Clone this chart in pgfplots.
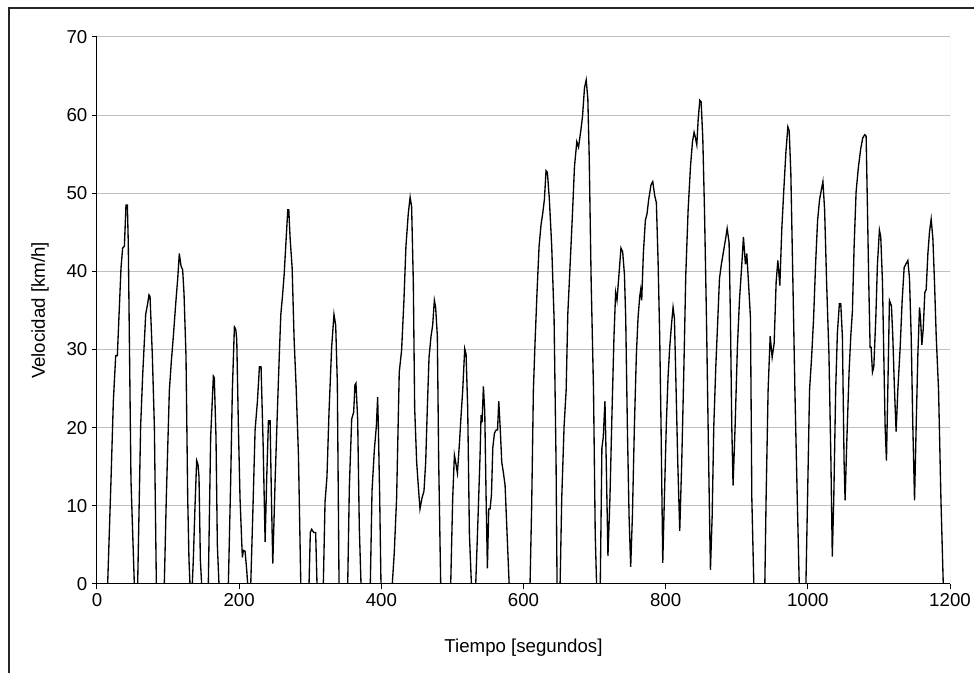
\documentclass[border=0pt]{standalone}
\usepackage{fontspec}
\setmainfont{Liberation Sans}
\usepackage{pgfplots}
\pgfplotsset{compat=1.18}
\newcommand{\fs}{\fontsize{14}{16}\selectfont}
\begin{document}
\begin{tikzpicture}
\useasboundingbox (0,0) rectangle (730.5pt,504.75pt);
\draw[line width=0.9pt, black!85] (6.75pt,-2pt) -- (6.75pt,498.75pt) -- (732pt,498.75pt);
\begin{axis}[
  at={(72.75pt,66.75pt)}, anchor=south west,
  scale only axis, width=639.75pt, height=410.25pt,
  xmin=0, xmax=1200, ymin=0, ymax=70,
  xtick={0,200,...,1200}, ytick={0,10,...,70},
  axis x line*=bottom, axis y line*=left,
  tick align=outside, major tick length=3.75pt,
  ymajorgrids, grid style={gray!50, line width=0.75pt},
  tick style={black, line width=0.75pt},
  axis line style={black, line width=0.75pt},
  tick label style={font=\fs},
  label style={font=\fs},
  /pgf/number format/assume math mode=true,
  /pgf/number format/1000 sep={},
  xlabel={Tiempo [segundos]}, ylabel={Velocidad [km/h]},
  xlabel style={at={(axis description cs:0.5,-0.117)}, anchor=center},
  ylabel style={at={(axis description cs:-0.0668,0.5)}, anchor=center},
]
\draw[gray!50, line width=0.75pt] (rel axis cs:1,0) -- (rel axis cs:1,1);
\addplot[black, line width=1pt, mark=none] coordinates {
(0,0) (15,0) (19.7,13.3) (23,23.4) (26.3,29.2) (28.6,29.2) (33.8,40.5) (36.1,43) (38.5,43.2) (40.8,48.5) (42.7,48.5) (44,43.7) (47.8,13.3) (52.5,0)
(57.2,0) (61.4,20.2) (64.2,26.6) (68.5,34.5) (71.3,35.9) (73.1,37) (74.6,36.8) (77.8,29.4) (80.7,20.2) (83.5,0)
(94.7,0) (97.5,11) (101.8,24.8) (104.6,28.5) (107.4,31.7) (111.1,36.3) (113.5,39) (115.8,42.3) (118.2,40.7) (120.5,40.2) (122.4,37.2) (125.2,29.2) (127.6,11) (129.4,3.1) (130.8,0)
(134.1,0) (135.5,3.1) (137.9,10) (140.2,15.8) (142.1,15.3) (143.5,13.7) (145.4,3.1) (147.2,0)
(156.6,0) (159.9,18.8) (163.7,26.6) (165,26.4) (167.4,18.8) (169.3,5) (171.6,0)
(184.8,0) (188.1,13.3) (190.4,24.8) (193.3,32.9) (195.2,32.6) (196.6,31.3) (198.9,20.2) (201.2,11) (203.6,5.4) (204.5,3.4) (205.9,4.3) (208.3,4.2) (210.6,1.8) (212,0)
(216.3,0) (219.1,8.7) (222.4,19.7) (225.7,23.4) (228.5,27.8) (230.8,27.8) (233.7,17.9) (236.5,5.4) (238.8,13.7) (241.2,20.9) (243.5,20.9) (245.4,11) (247.3,2.6) (250.6,13.3) (253.9,22.5) (256.7,29.9) (258.6,34.5) (260.9,36.8) (263.3,39.6) (266.1,44.2) (268.4,47.9) (269.8,47.9) (271.7,44.2) (274.5,40.5) (277.3,31.3) (280.1,25.3) (283.4,16.5) (286.7,0)
(298.3,0) (300.1,6.6) (302,7) (304.8,6.6) (307.6,6.6) (309.5,0)
(318.4,0) (320.8,10.5) (323.5,13.7) (326.4,22) (330.1,30.3) (333.4,34.5) (335.8,33.1) (338.1,25.7) (340.5,0)
(352.7,0) (355,12.4) (358.3,21.1) (361.1,22) (362.9,25.5) (364.3,25.7) (366.7,21.1) (369,7.3) (371.4,0)
(384.5,0) (386.9,11.9) (390.2,17.2) (393,20.2) (394.8,23.9) (395.8,20.2) (397.7,11) (399.5,0)
(415.4,0) (418.2,4) (421.5,11) (425.2,27.1) (428.5,29.9) (431.8,36.3) (434.6,43.2) (437.9,47.4) (440.5,49.5) (442.6,48.3) (445,38.6) (446.9,22.5) (449.7,15.6) (452.1,12.4) (454.4,9.6) (457.2,11) (460,11.9) (462.4,15.6) (464.7,22.5) (467.1,29) (469.9,31.7) (472.2,33.1) (474.6,36.3) (476.4,35.4) (478.8,31.7) (480.7,15.6) (483.5,0)
(497.6,0) (500.4,11) (502.8,16.5) (504.2,15.8) (507,14.2) (509.8,17.9) (512.2,21.6) (514.5,24.8) (517.3,30.1) (519.2,29.4) (521.5,22.5) (523.9,6.4) (526.7,0)
(532.8,0) (536.1,8.7) (538.9,16.5) (540.3,21.6) (541.7,20.7) (543.6,25.3) (545.5,22) (547.4,11) (549.2,2) (551.1,9.6) (553,9.6) (554.9,11.4) (556.8,17.4) (559.1,19.3) (561.5,19.7) (563.5,19.7) (565.2,23.4) (567.1,20.2) (569.4,15.6) (571.8,14.2) (574.1,12.6) (576.5,7.3) (579.8,0)
(609.2,0) (611.5,10) (613.9,24.8) (616.2,30.8) (619,37.3) (621.9,43.2) (624.7,46) (627,47.4) (629.4,49.2) (631.7,52.9) (633.6,52.7) (636.4,49.2) (639.7,43.2) (643,34) (645.8,15.6) (647.2,0)
(651.5,0) (653.8,11) (657.1,20.2) (660,24.8) (662.3,34.5) (665.6,40.9) (668.9,47.4) (671.7,53.4) (675,56.6) (677.4,55.9) (680.6,58) (683,59.8) (685.8,63.5) (688.2,64.5) (690.5,62.1) (692.4,54.8) (695.2,38.6) (698.5,24.8) (700.9,6.4) (702.8,0)
(708,0) (710.3,17.4) (712.2,18.8) (714.6,23.4) (716.4,15.6) (718.8,3.6) (721.6,11) (724.4,21.6) (727.3,31.7) (729.6,37.3) (731.5,36.3) (734.3,39.6) (737.1,43) (739.5,42.5) (742,39.6) (743.8,34) (746.1,20.2) (748.5,8.7) (750.8,2.2) (753.2,8.7) (756,20.2) (758.8,29.4) (761.1,34) (763.5,36.8) (764.9,37.7) (766.3,36.3) (768.6,42.3) (771.4,46.5) (773.8,47.4) (776.1,49.2) (779.4,51.1) (781.8,51.5) (784.6,49.7) (786.9,48.8) (789.3,41.4) (791.6,31.7) (793.5,20.2) (795.9,2.7) (798.2,11) (801,20.7) (803.4,26.6) (805.7,30.3) (808.1,33.1) (810.4,35.4) (812.3,34) (814.7,24.8) (817,15.6) (819.8,6.8) (822.6,15.6) (825.5,27.1) (828.3,39.6) (831.6,47.9) (834.9,53.4) (837.7,56.6) (840,57.8) (841.9,57.1) (843.8,56.2) (845.7,59.4) (848,61.9) (849.9,61.7) (852.2,57.1) (854.6,47.9) (857.4,34) (859.7,20.2) (862.1,6.4) (863,1.8) (865.4,8.7) (867.7,20.2) (870.6,28) (873.4,34) (875.7,39.1) (878.5,41) (881.8,42.8) (884.7,44.4) (886.5,45.5) (889.2,43.7) (891.1,34) (893,20.2) (894.8,12.6) (897.7,20.2) (900.9,30.3) (903.8,36.3) (907.1,40.9) (909.4,44.4) (912.2,40.9) (914.1,42.3) (916.5,38.6) (919.3,34) (921.2,11) (924,0)
(939.5,0) (941.3,11) (944.1,24.8) (947,31.7) (949.8,29) (952.6,30.8) (955.4,38.6) (957.8,41.4) (960.6,38.2) (963.4,45.5) (966.3,50.6) (969.1,55.2) (971.9,58.5) (973.8,58) (976.1,52.5) (979,38.6) (981.8,24.8) (985.1,11) (987.9,0)
(997.3,0) (999.6,11) (1002.4,24.8) (1005.3,29) (1008.1,34) (1010.9,40.9) (1013.7,46.5) (1016.5,49.2) (1019.3,50.6) (1021.2,51.5) (1023.6,47.9) (1026.4,38.6) (1029.7,29.4) (1032.5,15.6) (1034.4,3.5) (1036.5,11) (1039.2,25) (1041.6,32.2) (1044.4,35.9) (1046.3,35.9) (1048.6,31.7) (1051,15.6) (1052.4,10.7) (1054.7,17.9) (1058,27.1) (1060.4,31.7) (1062.7,34.9) (1065.1,43.2) (1067.9,50.2) (1071.2,53.4) (1074.4,55.7) (1077.3,57.1) (1080.1,57.5) (1082,57.3) (1083.9,47.9) (1085.7,38.6) (1087.6,30.3) (1089,30.3) (1090.9,27.1) (1092.8,27.8) (1095.6,34) (1097.9,40.9) (1100.7,45.3) (1102.6,44.4) (1105,38.6) (1107.3,27.1) (1108.7,20.2) (1110.6,15.8) (1112.5,24.8) (1114.8,36.3) (1117.6,35.6) (1119.5,31.7) (1121.9,24.8) (1124.2,19.5) (1126.6,24.8) (1129.9,30.3) (1132.7,36.3) (1135.5,40.5) (1138.3,41) (1140.7,41.4) (1143,39.1) (1145.4,31.7) (1147.7,20.2) (1150.1,10.7) (1152.4,20.2) (1154.8,29.4) (1157.1,35.4) (1158.5,34) (1160.4,30.6) (1162.3,32.6) (1164.6,37.3) (1166.5,37.7) (1168.9,42.3) (1171.2,45.1) (1173.5,46.7) (1175.9,44.2) (1178.2,38.6) (1180.6,31.7) (1183.9,24.8) (1187.2,11) (1190.5,0) (1195,0)
};
\end{axis}
\end{tikzpicture}
\end{document}
